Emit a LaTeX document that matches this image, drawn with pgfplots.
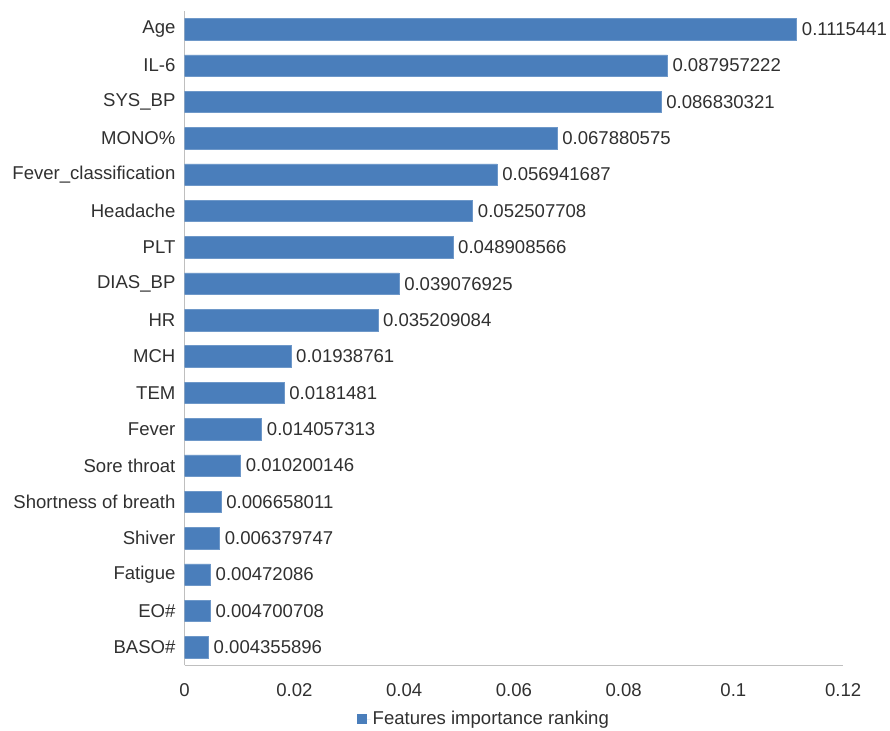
\documentclass[border=0pt]{standalone}
\usepackage{fontspec}
\setmainfont{Liberation Sans}
\usepackage{pgfplots}
\pgfplotsset{compat=1.18}
\usepackage{pgfplotstable}

\definecolor{barblue}{HTML}{4A7EBB}
\definecolor{axisgray}{HTML}{BFBFBF}
\definecolor{txt}{HTML}{303030}

% feature importance, bottom (BASO#) to top (Age)
\pgfplotstableread{
pos value label
0  0.004355896 0.004355896
1  0.004700708 0.004700708
2  0.00472086  0.00472086
3  0.006379747 0.006379747
4  0.006658011 0.006658011
5  0.010200146 0.010200146
6  0.014057313 0.014057313
7  0.0181481   0.0181481
8  0.01938761  0.01938761
9  0.035209084 0.035209084
10 0.039076925 0.039076925
11 0.048908566 0.048908566
12 0.052507708 0.052507708
13 0.056941687 0.056941687
14 0.067880575 0.067880575
15 0.086830321 0.086830321
16 0.087957222 0.087957222
17 0.1115441   0.1115441
}\importance

\begin{document}
\fontsize{18.6}{22}\selectfont
\begin{tikzpicture}
\begin{axis}[
    name=ax,
    scale only axis,
    width=660pt, height=656pt,
    xbar, bar width=21.5pt,
    xmin=0, xmax=0.12,
    ymin=-0.5, ymax=17.5,
    axis lines*=left,
    axis line style={draw=axisgray, line width=0.9pt},
    major tick length=0pt,
    xtick={0,0.02,0.04,0.06,0.08,0.1,0.12},
    xticklabels={0,0.02,0.04,0.06,0.08,0.1,0.12},
    ytick={0,...,17},
    yticklabels={BASO\#,EO\#,Fatigue,Shiver,Shortness of breath,Sore throat,Fever,TEM,MCH,HR,DIAS\_BP,PLT,Headache,Fever\_classification,MONO\%,SYS\_BP,IL-6,Age},
    tick label style={font=\fontsize{18.6}{22}\selectfont, text=txt},
    yticklabel style={xshift=-8pt, inner xsep=1pt},
    xticklabel style={yshift=-12pt},
    nodes near coords,
    point meta=explicit symbolic,
    every node near coord/.append style={font=\fontsize{18.6}{22}\selectfont, text=txt, anchor=west, inner xsep=0pt, xshift=5pt},
    legend style={at={(0.455,-0.0665)}, anchor=north, draw=none, fill=none, inner sep=0pt,
        font=\fontsize{18.6}{22}\selectfont, text=txt},
    legend image code/.code={\fill[barblue] (0pt,-4pt) rectangle (9pt,5pt); \path[draw=none] (0pt,0pt) -- (13pt,0pt);},
]
\addplot[fill=barblue, draw=barblue!80!white, line width=0.5pt]
    table[x=value, y=pos, meta=label] {\importance};
\addlegendentry{Features importance ranking}
\end{axis}
\path ([xshift=-185pt, yshift=11pt]ax.north west) rectangle ([xshift=47pt, yshift=-65pt]ax.south east);
\end{tikzpicture}
\end{document}
